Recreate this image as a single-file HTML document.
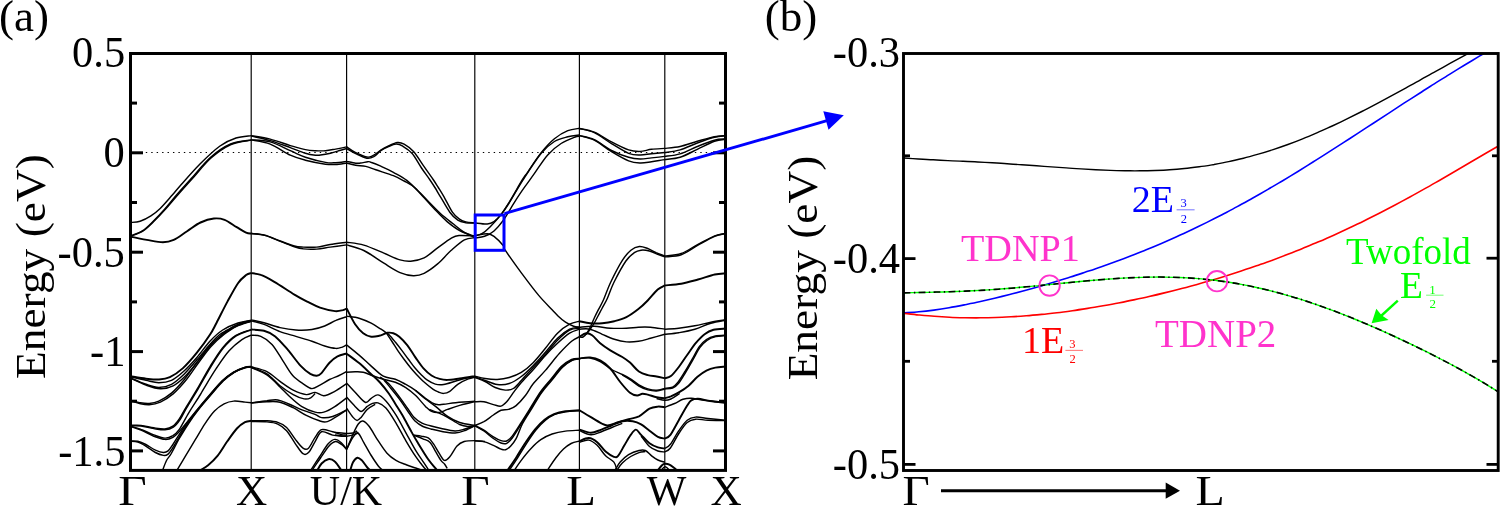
<!DOCTYPE html>
<html>
<head>
<meta charset="utf-8">
<title>Band structure</title>
<style>
html,body{margin:0;padding:0;background:#fff;}
body{width:1500px;height:507px;overflow:hidden;font-family:"Liberation Serif",serif;}
svg{display:block;will-change:transform;}
text{font-family:"Liberation Serif",serif;}
</style>
</head>
<body>
<svg width="1500" height="507" viewBox="0 0 1500 507">
<rect width="1500" height="507" fill="#fff"/>
<defs>
  <clipPath id="clipA"><rect x="130.5" y="53.5" width="595" height="416.8"/></clipPath>
  <clipPath id="clipB"><rect x="903.5" y="53.5" width="594.5" height="416.7"/></clipPath>
</defs>

<!-- ================= PANEL A ================= -->
<g id="panelA">
  <!-- vertical k-point lines -->
  <g stroke="#000" stroke-width="1.17" fill="none">
    <line x1="251.2" y1="53" x2="251.2" y2="470"/>
    <line x1="346.6" y1="53" x2="346.6" y2="470"/>
    <line x1="474.8" y1="53" x2="474.8" y2="470"/>
    <line x1="579.4" y1="53" x2="579.4" y2="470"/>
    <line x1="664.8" y1="53" x2="664.8" y2="470"/>
  </g>
  <!-- fermi level dotted -->
  <line x1="145.8" y1="152.5" x2="713" y2="152.5" stroke="#000" stroke-width="1.15" stroke-dasharray="1.4 4.036"/>
  <!-- BANDS A -->
  <g id="bandsA" stroke="#000" fill="none" stroke-linejoin="round" clip-path="url(#clipA)">
<g stroke-width="1.45">
<path d="M130.5 222.5C132.1 222.3 136.7 222.3 140.1 221.2C143.5 220.1 147.6 217.9 150.9 215.8C154.2 213.7 156.6 211.9 160.2 208.4C163.8 204.9 169.0 198.7 172.3 195.0C175.6 191.3 175.4 191.2 180.0 186.0C184.6 180.8 193.3 170.7 200.0 164.0C206.7 157.3 214.0 150.3 220.0 146.0C226.0 141.7 230.8 139.7 236.0 138.0C241.2 136.3 248.7 136.0 251.2 135.6"/>
<path d="M130.5 235.9C132.5 235.1 138.6 233.3 142.3 230.9C146.1 228.5 149.3 225.1 153.0 221.5C156.7 217.9 160.7 213.7 164.6 209.3C168.5 204.9 172.1 200.1 176.5 195.0C180.9 189.9 185.5 184.9 191.2 178.6C196.9 172.3 204.0 163.1 210.6 157.3C217.2 151.5 223.8 146.9 230.6 144.0C237.4 141.1 247.8 140.6 251.2 139.9"/>
<path d="M130.5 236.3C132.6 235.5 139.0 233.6 142.8 231.2C146.6 228.8 149.7 225.5 153.5 221.8C157.3 218.1 161.6 213.6 165.6 209.1C169.6 204.6 173.3 200.0 177.7 195.0C182.1 190.0 186.4 185.2 192.0 179.0C197.6 172.8 204.5 163.8 211.0 158.0C217.5 152.2 224.3 147.5 231.0 144.5C237.7 141.5 247.8 140.8 251.2 140.1"/>
<path d="M130.5 376.7C133.1 377.3 141.3 379.3 146.0 380.3C150.7 381.3 154.6 382.7 158.8 382.7C163.1 382.7 167.2 382.3 171.5 380.3C175.8 378.3 180.0 374.6 184.3 370.7C188.6 366.8 192.8 362.1 197.1 357.2C201.4 352.3 205.6 345.7 209.9 341.2C214.2 336.7 218.0 333.0 222.7 330.0C227.4 327.0 233.2 324.6 238.0 323.0C242.8 321.4 249.0 320.6 251.2 320.1"/>
<path d="M130.5 377.9C133.1 379.0 141.3 382.7 146.0 384.3C150.7 385.9 154.6 387.5 158.8 387.5C163.1 387.5 167.2 386.6 171.5 384.3C175.8 382.0 180.0 378.0 184.3 373.9C188.6 369.8 192.8 364.5 197.1 359.6C201.4 354.7 206.2 348.5 209.9 344.4C213.6 340.3 216.6 337.2 219.5 334.8C222.4 332.4 224.1 331.9 227.5 330.0C230.9 328.1 236.1 325.1 240.0 323.5C243.9 321.9 249.3 321.1 251.2 320.6"/>
<path d="M130.5 378.3C133.1 379.4 141.0 383.4 146.0 385.1C151.0 386.9 155.9 388.7 160.4 388.8C164.9 388.9 168.8 388.1 173.1 385.9C177.3 383.7 181.6 379.8 185.9 375.5C190.2 371.2 194.7 365.3 198.7 360.4C202.7 355.5 206.2 350.1 209.9 346.0C213.6 341.9 217.9 338.3 221.1 335.6C224.3 332.9 225.8 331.9 229.1 330.0C232.4 328.1 237.3 325.5 241.0 324.0C244.7 322.5 249.5 321.5 251.2 321.0"/>
<path d="M130.5 400.3C132.0 400.7 136.5 402.2 139.6 402.7C142.7 403.2 146.0 403.8 149.2 403.5C152.4 403.2 155.1 402.8 158.8 401.1C162.5 399.4 167.2 396.7 171.5 393.1C175.8 389.5 180.0 384.7 184.3 379.5C188.6 374.3 192.8 367.6 197.1 362.0C201.4 356.4 205.6 350.7 209.9 346.0C214.2 341.3 218.5 337.3 222.7 334.0C226.9 330.7 230.2 328.2 235.0 326.0C239.8 323.8 248.5 321.8 251.2 321.0"/>
<path d="M130.5 400.6C132.0 401.1 136.5 402.8 139.6 403.5C142.7 404.2 145.7 405.0 149.2 404.8C152.7 404.6 156.4 404.0 160.4 402.2C164.4 400.4 168.8 397.5 173.1 393.9C177.3 390.2 181.6 385.5 185.9 380.3C190.2 375.1 194.5 368.1 198.7 362.5C202.9 356.9 206.8 351.2 211.0 346.5C215.2 341.8 219.8 337.8 224.0 334.5C228.2 331.2 231.5 328.7 236.0 326.5C240.5 324.3 248.7 322.1 251.2 321.2"/>
<path d="M130.5 425.4C132.2 425.4 137.1 425.0 141.0 425.4C144.9 425.8 149.8 427.2 153.8 427.8C157.8 428.4 161.8 429.2 165.0 428.9C168.2 428.6 170.5 427.8 172.9 426.2C175.3 424.6 177.2 422.1 179.3 419.0C181.4 415.9 182.7 412.8 185.7 407.8C188.7 402.8 193.1 395.9 197.1 389.1C201.1 382.3 205.6 373.7 209.9 366.8C214.2 359.9 218.4 352.8 222.7 347.6C227.0 342.4 230.8 338.6 235.5 335.6C240.2 332.6 248.6 330.6 251.2 329.6"/>
<path d="M130.5 425.8C132.2 425.8 137.1 425.5 141.0 426.0C144.9 426.5 149.8 428.0 153.8 428.6C157.8 429.2 161.8 430.0 165.0 429.8C168.2 429.6 170.8 428.9 173.3 427.2C175.8 425.5 177.9 422.8 180.1 419.6C182.3 416.4 183.6 412.9 186.6 407.8C189.6 402.7 194.0 395.9 198.0 389.1C202.0 382.3 206.6 373.7 210.8 366.8C215.1 359.9 219.3 353.0 223.5 347.9C227.7 342.8 231.6 338.9 236.2 335.9C240.8 332.9 248.7 330.8 251.2 329.8"/>
<path d="M130.5 426.2C132.2 426.7 137.1 427.9 141.0 429.4C144.9 430.8 149.8 433.4 153.8 434.9C157.8 436.3 161.8 438.0 165.0 438.1C168.2 438.2 170.5 437.1 172.9 435.7C175.3 434.2 176.6 433.2 179.3 429.4C182.0 425.5 185.4 418.3 188.9 412.6C192.4 406.9 197.7 398.9 200.1 395.0C202.5 391.1 200.8 393.5 203.5 389.1C206.2 384.7 212.0 374.8 216.3 368.4C220.6 362.0 224.8 355.6 229.1 350.8C233.4 346.0 238.2 342.2 241.9 339.6C245.6 337.0 249.6 335.9 251.2 335.2"/>
<path d="M130.5 426.5C132.2 427.1 137.1 428.6 141.0 430.2C144.9 431.8 149.8 434.7 153.8 436.2C157.8 437.7 161.8 439.2 165.0 439.4C168.2 439.6 170.5 438.6 172.9 437.3C175.3 436.0 177.1 433.8 179.3 431.5C181.5 429.2 183.2 427.0 186.0 423.5C188.8 420.0 192.5 415.4 196.3 410.7C200.2 406.0 204.8 400.4 209.1 395.5C213.4 390.6 217.9 385.0 221.9 381.1C225.9 377.2 229.3 374.6 233.1 372.3C236.9 370.0 241.5 368.4 244.5 367.4C247.5 366.4 250.1 366.6 251.2 366.5"/>
<path d="M130.5 441.0C131.7 441.1 135.2 440.7 137.8 441.3C140.4 441.9 142.9 443.0 145.8 444.5C148.7 446.0 152.5 448.8 155.4 450.1C158.3 451.4 161.3 452.4 163.4 452.5C165.5 452.6 166.5 452.2 168.1 450.9C169.7 449.6 171.0 447.2 172.9 444.5C174.8 441.8 176.6 438.4 179.3 434.4C182.0 430.4 186.0 424.4 188.9 420.5C191.8 416.6 193.3 414.9 196.7 410.7C200.1 406.5 205.2 400.4 209.5 395.5C213.8 390.6 218.3 385.0 222.3 381.1C226.3 377.2 229.8 374.6 233.5 372.3C237.2 370.0 241.8 368.4 244.7 367.5C247.6 366.6 250.1 366.8 251.2 366.7"/>
<path d="M130.5 441.3C131.7 441.4 135.2 441.3 137.8 442.1C140.4 442.9 142.9 444.4 145.8 446.1C148.7 447.8 152.5 450.9 155.4 452.5C158.3 454.1 161.3 455.1 163.4 455.4C165.5 455.7 166.5 455.4 168.1 454.1C169.7 452.8 171.0 450.6 172.9 447.7C174.8 444.8 176.6 441.1 179.3 436.8C182.0 432.5 185.9 426.2 188.9 421.8C191.9 417.4 193.6 415.1 197.1 410.7C200.6 406.3 205.6 400.4 209.9 395.5C214.2 390.6 218.7 385.0 222.7 381.1C226.7 377.2 230.2 374.6 233.9 372.3C237.6 370.1 242.1 368.5 245.0 367.6C247.9 366.7 250.2 366.9 251.2 366.8"/>
<path d="M162.6 470.3C163.2 468.7 165.1 463.3 166.5 460.5C167.9 457.7 169.2 457.2 171.3 453.5C173.4 449.8 176.4 443.6 179.3 438.5C182.2 433.4 185.9 427.6 188.9 423.0C191.9 418.4 194.0 415.3 197.6 410.7C201.2 406.1 206.1 400.4 210.4 395.5C214.7 390.6 219.2 385.0 223.2 381.1C227.2 377.2 230.7 374.5 234.4 372.3C238.1 370.1 242.5 368.7 245.3 367.8C248.1 366.9 250.2 367.0 251.2 366.9"/>
<path d="M176.9 470.3C178.4 467.9 182.6 460.8 185.7 455.7C188.8 450.6 192.1 445.0 195.3 439.7C198.5 434.4 201.7 428.6 204.9 423.8C208.1 419.0 211.3 414.3 214.5 411.0C217.7 407.7 220.9 405.4 224.1 403.8C227.3 402.2 230.2 401.4 233.7 401.1C237.2 400.8 242.1 401.8 245.0 402.1C247.9 402.4 250.2 402.6 251.2 402.7"/>
<path d="M251.2 135.6C254.4 136.2 263.7 137.4 270.2 139.1C276.7 140.8 284.4 143.8 290.3 145.6C296.2 147.3 301.2 148.8 305.4 149.6C309.6 150.4 312.1 150.5 315.5 150.7C318.9 150.9 322.1 151.0 325.5 150.7C328.9 150.4 332.1 149.7 335.6 149.1C339.1 148.5 344.9 147.3 346.7 146.9"/>
<path d="M251.2 136.0C254.4 136.8 263.7 138.7 270.2 140.6C276.7 142.5 284.4 145.5 290.3 147.6C296.2 149.7 301.2 151.9 305.4 153.2C309.6 154.5 313.0 154.9 315.5 155.2C318.0 155.5 318.0 155.3 320.5 155.0C323.0 154.7 327.1 154.0 330.5 153.2C333.9 152.4 337.9 151.0 340.6 150.2C343.3 149.4 345.7 148.8 346.7 148.5"/>
<path d="M251.2 139.9C254.4 140.2 263.7 140.1 270.2 141.9C276.7 143.7 284.4 148.1 290.3 150.7C296.2 153.2 299.5 155.2 305.4 157.2C311.3 159.1 320.5 161.5 325.5 162.4C330.5 163.3 332.1 162.9 335.6 162.7C339.1 162.5 344.9 161.6 346.7 161.4"/>
<path d="M251.2 139.9C254.4 140.6 263.7 141.6 270.2 144.1C276.7 146.6 284.4 152.5 290.3 155.2C296.2 157.9 299.5 158.7 305.4 160.2C311.3 161.7 320.5 163.5 325.5 164.2C330.5 164.9 332.1 164.7 335.6 164.5C339.1 164.3 344.9 163.2 346.7 163.0"/>
<path d="M251.2 233.5C253.5 233.8 259.9 233.9 264.9 235.2C269.9 236.5 276.1 239.5 281.0 241.3C285.9 243.1 290.7 245.0 294.4 246.0C298.1 247.0 299.7 246.9 303.4 247.1C307.1 247.3 312.3 247.5 316.8 247.1C321.3 246.7 325.2 245.3 330.2 244.5C335.2 243.7 343.9 242.6 346.7 242.2"/>
<path d="M251.2 233.5C253.5 233.8 259.9 234.1 264.9 235.4C269.9 236.8 276.1 239.7 281.0 241.6C285.9 243.5 290.7 245.6 294.4 246.8C298.1 248.0 299.7 248.5 303.4 248.9C307.1 249.3 312.3 249.4 316.8 249.1C321.3 248.8 325.2 247.8 330.2 247.1C335.2 246.4 343.9 245.3 346.7 244.9"/>
<path d="M251.2 319.9C253.3 320.4 259.2 321.5 264.0 322.8C268.8 324.1 274.7 326.4 280.0 327.6C285.3 328.8 290.6 329.7 295.9 330.0C301.2 330.3 307.1 330.2 311.9 329.5C316.7 328.8 320.7 327.5 324.7 326.0C328.7 324.5 332.2 321.9 335.9 320.4C339.6 318.8 344.9 317.3 346.7 316.7"/>
<path d="M251.2 320.9C253.3 321.5 259.2 322.6 264.0 324.4C268.8 326.2 274.7 329.6 280.0 331.6C285.3 333.6 290.6 334.8 295.9 336.4C301.2 338.0 307.1 339.6 311.9 341.2C316.7 342.8 320.7 344.8 324.7 346.0C328.7 347.2 333.0 348.2 335.9 348.4C338.8 348.6 340.5 347.7 342.3 347.1C344.1 346.5 346.0 345.2 346.7 344.8"/>
<path d="M251.2 335.2C252.8 335.4 257.3 334.9 260.8 336.4C264.3 337.9 268.3 340.3 272.0 344.4C275.7 348.5 279.7 355.9 283.1 361.1C286.6 366.3 289.2 371.6 292.7 375.5C296.2 379.4 300.7 382.1 303.9 384.3C307.1 386.5 309.2 388.5 311.9 388.6C314.6 388.7 317.0 386.6 319.9 385.1C322.8 383.6 326.3 381.1 329.5 379.5C332.7 377.9 336.2 376.8 339.1 375.5C342.0 374.2 345.4 372.2 346.7 371.5"/>
<path d="M251.2 366.8C253.8 367.6 262.1 369.2 266.9 371.6C271.7 374.0 275.6 378.3 280.0 381.4C284.4 384.5 288.8 388.0 293.2 390.2C297.6 392.4 302.6 394.2 306.3 394.6C310.0 395.0 312.2 392.2 315.1 392.4C318.0 392.6 320.5 395.9 323.8 395.7C327.1 395.5 331.0 393.3 334.8 391.3C338.6 389.3 344.7 384.9 346.7 383.6"/>
<path d="M251.2 367.2C253.8 368.3 262.1 370.7 266.9 373.8C271.7 376.9 275.6 382.3 280.0 385.8C284.4 389.3 289.2 392.4 293.2 394.6C297.2 396.8 301.2 398.4 304.1 398.9C307.0 399.4 308.9 398.7 310.7 397.8C312.5 396.9 314.4 394.2 315.1 393.5"/>
<path d="M251.2 367.6C253.8 368.8 262.1 371.7 266.9 374.9C271.7 378.1 276.4 383.4 280.0 386.9C283.6 390.4 285.2 392.4 288.8 395.7C292.4 399.0 297.5 403.9 301.9 406.6C306.3 409.3 311.5 411.2 315.1 412.1C318.8 413.0 320.5 413.0 323.8 412.1C327.1 411.2 331.0 409.0 334.8 406.6C338.6 404.2 344.7 399.3 346.7 397.8"/>
<path d="M251.2 402.7C253.8 402.4 262.5 401.1 266.9 400.7C271.3 400.2 274.1 399.4 277.8 400.0C281.5 400.6 284.8 402.4 288.8 404.0C292.8 405.6 297.5 408.2 301.9 409.9C306.3 411.6 311.8 413.0 315.1 414.3C318.4 415.6 318.7 417.2 321.6 417.6C324.5 418.0 328.4 417.8 332.6 416.5C336.8 415.2 344.4 411.0 346.7 409.9"/>
<path d="M251.2 403.1C253.8 402.9 262.1 402.0 266.9 401.8C271.7 401.6 275.6 401.2 280.0 402.2C284.4 403.2 288.8 405.5 293.2 407.7C297.6 409.9 301.9 413.2 306.3 415.4C310.7 417.6 316.1 419.7 319.4 420.8C322.7 421.9 323.4 422.4 326.0 421.9C328.6 421.4 331.4 419.6 334.8 417.6C338.2 415.6 344.7 411.2 346.7 409.9"/>
<path d="M251.2 420.8C253.8 420.8 262.5 420.5 266.9 420.8C271.3 421.1 274.5 421.3 277.8 422.4C281.1 423.5 283.7 424.6 286.6 427.4C289.5 430.2 292.7 435.9 295.4 439.4C298.1 442.9 300.8 446.7 303.0 448.2C305.2 449.7 306.5 450.0 308.5 448.2C310.5 446.4 312.9 440.4 315.1 437.3C317.3 434.2 318.7 430.5 321.6 429.6C324.5 428.7 329.3 431.0 332.6 431.8C335.9 432.6 339.0 434.1 341.3 434.6C343.6 435.2 345.8 435.0 346.7 435.1"/>
<path d="M251.2 421.5C253.8 421.6 262.5 421.5 266.9 421.9C271.3 422.3 274.5 422.6 277.8 424.1C281.1 425.6 283.7 427.4 286.6 430.7C289.5 434.0 292.7 440.0 295.4 443.8C298.1 447.6 300.8 452.2 303.0 453.7C305.2 455.2 306.5 454.6 308.5 452.6C310.5 450.6 312.9 445.1 315.1 441.6C317.3 438.1 318.7 432.9 321.6 431.8C324.5 430.7 329.3 434.4 332.6 435.1C335.9 435.8 339.0 436.0 341.3 436.2C343.6 436.4 345.8 436.2 346.7 436.2"/>
<path d="M310.7 470.3C312.1 468.1 316.5 461.4 319.4 457.0C322.3 452.6 325.6 446.7 328.2 443.8C330.8 440.9 332.6 439.6 334.8 439.4C337.0 439.2 339.3 441.0 341.3 442.7C343.3 444.4 345.8 448.2 346.7 449.3"/>
<path d="M312.0 470.3C313.4 468.2 317.7 462.1 320.5 458.0C323.3 453.9 326.5 448.8 329.0 446.0C331.5 443.2 333.4 441.8 335.5 441.5C337.6 441.2 339.6 443.2 341.5 444.5C343.4 445.8 345.8 448.5 346.7 449.3"/>
<path d="M346.7 146.9C348.2 147.9 352.3 151.0 355.7 152.7C359.1 154.4 363.9 156.5 366.8 157.0C369.7 157.5 370.5 156.8 372.8 155.7C375.1 154.6 378.3 151.8 380.8 150.2C383.3 148.6 385.2 147.5 388.0 146.2C390.8 144.9 394.7 142.8 397.4 142.5C400.1 142.2 401.4 142.6 404.1 144.1C406.8 145.6 410.1 147.7 413.5 151.5C416.9 155.3 421.0 162.2 424.3 166.9C427.6 171.7 431.2 176.6 433.5 180.0C435.8 183.4 436.6 184.8 438.3 187.5C440.0 190.2 441.2 192.0 443.6 196.1C446.0 200.2 449.8 208.4 452.4 212.2C455.0 216.0 456.9 217.3 459.1 218.9C461.3 220.5 463.2 221.2 465.8 221.9C468.4 222.6 473.4 222.7 474.9 222.9"/>
<path d="M346.7 148.6C348.2 149.4 352.3 152.1 355.7 153.7C359.1 155.3 363.8 157.7 366.8 158.2C369.8 158.7 371.5 157.9 373.8 156.7C376.1 155.4 378.4 152.3 380.8 150.7C383.2 149.0 385.4 147.9 388.0 146.8C390.6 145.7 393.6 144.2 396.1 144.1C398.6 144.0 400.1 144.6 402.8 146.2C405.5 147.8 409.1 149.9 412.2 153.5C415.3 157.1 418.5 163.6 421.5 168.0C424.5 172.4 427.8 176.8 430.0 180.0C432.2 183.2 433.1 184.6 434.9 187.5C436.7 190.4 438.3 193.3 440.8 197.4C443.3 201.5 447.0 208.4 449.8 212.2C452.6 216.0 455.1 218.4 457.8 220.2C460.5 221.9 463.0 222.2 465.8 222.7C468.6 223.1 473.4 222.9 474.9 222.9"/>
<path d="M346.7 161.4C348.2 161.7 353.4 162.9 355.7 163.2C358.0 163.5 358.7 163.2 360.7 163.0C362.7 162.8 366.1 161.8 367.8 161.7C369.5 161.6 368.6 161.4 370.8 162.2C373.0 162.9 377.0 164.5 380.8 166.2C384.6 167.9 389.1 169.9 393.4 172.3C397.7 174.7 402.3 176.9 406.8 180.4C411.3 183.9 415.7 188.8 420.2 193.4C424.7 198.0 429.2 203.5 433.7 208.2C438.2 212.9 442.6 217.8 447.1 221.6C451.6 225.4 455.9 228.6 460.5 231.0C465.1 233.4 472.5 235.4 474.9 236.3"/>
<path d="M346.7 163.0C348.2 163.4 352.5 164.6 355.7 165.2C358.9 165.8 362.4 165.6 365.8 166.4C369.2 167.2 371.2 168.2 375.8 169.8C380.4 171.4 388.7 173.8 393.4 175.7C398.1 177.6 400.5 179.0 404.1 181.0C407.7 183.0 411.1 184.5 414.9 187.7C418.7 190.9 422.8 195.7 427.0 200.0C431.2 204.3 435.9 209.4 440.4 213.5C444.9 217.6 450.0 221.3 453.8 224.3C457.6 227.3 459.7 229.4 463.2 231.6C466.7 233.8 472.9 236.7 474.9 237.7"/>
<path d="M346.7 242.2C349.6 242.7 357.6 243.3 363.8 245.1C370.0 246.9 377.9 250.7 383.9 253.2C389.9 255.7 395.5 258.6 400.0 259.9C404.5 261.2 406.7 261.5 410.7 261.2C414.7 260.9 419.6 260.1 424.1 257.9C428.6 255.7 433.1 251.1 437.6 247.8C442.1 244.6 447.4 240.5 451.0 238.4C454.6 236.3 455.0 235.9 459.0 235.5C463.0 235.1 472.2 235.9 474.9 236.0"/>
<path d="M346.7 244.9C349.6 245.8 357.6 247.4 363.8 250.5C370.0 253.6 377.9 259.5 383.9 263.2C389.9 266.9 395.1 270.5 400.0 272.6C404.9 274.7 409.4 275.6 413.4 275.7C417.4 275.8 420.1 275.3 424.1 273.3C428.1 271.3 433.1 267.7 437.6 263.9C442.1 260.1 446.5 254.5 451.0 250.5C455.5 246.5 460.4 241.9 464.4 239.8C468.4 237.7 473.1 238.0 474.9 237.7"/>
<path d="M346.7 316.1C348.8 316.5 355.0 317.0 359.1 318.2C363.2 319.4 367.6 321.4 371.2 323.2C374.8 325.0 378.4 327.6 381.0 329.2C383.6 330.8 385.2 332.0 386.6 333.0C388.1 334.0 388.2 333.8 389.7 335.4C391.2 336.9 393.4 339.7 395.5 342.3C397.6 344.9 400.1 348.1 402.2 350.9C404.3 353.7 406.3 356.5 408.4 359.3C410.5 362.1 412.5 365.0 414.6 367.5C416.7 370.0 418.9 372.4 421.0 374.5C423.1 376.6 424.6 378.3 427.0 379.9C429.4 381.5 432.5 383.3 435.3 384.1C438.1 384.9 440.2 385.0 443.6 384.5C447.1 384.0 452.4 382.0 456.0 381.0C459.6 380.0 461.9 379.2 465.0 378.5C468.1 377.8 473.2 376.9 474.9 376.6"/>
<path d="M386.6 333.3C387.5 334.7 390.1 338.6 392.0 341.5C393.9 344.4 396.0 347.9 398.0 350.9C400.0 353.9 402.1 356.7 404.2 359.5C406.3 362.3 408.3 365.0 410.4 367.5C412.4 370.0 414.4 372.2 416.5 374.5C418.6 376.8 420.1 378.5 422.9 381.0C425.7 383.5 430.6 387.5 433.2 389.3C435.8 391.1 436.8 391.3 438.5 392.0C440.2 392.7 441.7 393.5 443.6 393.4C445.5 393.3 447.4 392.9 449.8 391.3C452.2 389.8 455.0 386.2 458.1 384.1C461.2 382.0 465.6 380.0 468.4 378.9C471.2 377.8 473.8 377.5 474.9 377.2"/>
<path d="M346.7 345.0C348.8 346.7 355.0 351.6 359.1 355.1C363.2 358.6 367.2 362.6 371.2 366.1C375.2 369.6 379.3 374.0 383.3 376.2C387.3 378.4 391.6 377.9 395.3 379.2C399.0 380.5 402.0 382.3 405.4 384.2C408.8 386.1 412.0 387.9 415.4 390.3C418.8 392.7 422.1 396.0 425.5 398.3C428.9 400.6 432.5 403.3 435.5 404.3C438.5 405.3 440.2 404.6 443.6 404.3C447.0 404.0 450.5 403.2 455.7 402.7C460.9 402.2 471.7 401.5 474.9 401.3"/>
<path d="M346.7 372.2C348.1 372.1 352.4 371.8 355.1 371.8C357.9 371.8 360.5 371.6 363.2 372.2C365.9 372.8 367.8 374.0 371.2 375.2C374.6 376.4 379.3 378.0 383.3 379.2C387.3 380.4 391.6 380.8 395.3 382.2C399.0 383.6 402.0 385.1 405.4 387.3C408.8 389.5 412.0 392.1 415.4 395.3C418.8 398.5 422.8 403.7 425.5 406.4C428.2 409.1 429.1 410.4 431.5 411.4C433.9 412.4 436.9 412.7 439.6 412.4C442.3 412.1 444.2 410.6 447.6 409.4C451.0 408.2 455.1 406.7 459.7 405.4C464.2 404.1 472.4 402.1 474.9 401.5"/>
<path d="M415.4 390.3C417.1 391.8 422.1 396.3 425.5 399.0C428.9 401.7 431.8 403.5 435.5 406.4C439.2 409.3 443.6 413.7 447.6 416.4C451.6 419.1 455.1 421.0 459.7 422.5C464.2 424.0 472.4 425.0 474.9 425.5"/>
<path d="M429.5 409.4C431.2 410.1 436.6 412.1 439.6 413.4C442.6 414.7 444.2 415.5 447.6 417.4C451.0 419.2 456.4 423.0 459.7 424.5C463.0 426.0 465.2 426.3 467.7 426.5C470.2 426.7 473.7 425.7 474.9 425.5"/>
<path d="M380.0 377.0C381.5 378.1 385.5 380.4 388.8 383.8C392.1 387.2 396.7 393.4 399.9 397.6C403.1 401.8 405.7 405.8 408.0 409.0C410.3 412.2 411.4 414.6 413.7 417.0C416.0 419.4 419.2 421.7 422.0 423.2C424.8 424.7 427.0 424.9 430.2 425.8C433.4 426.7 437.2 427.6 441.3 428.5C445.4 429.4 451.1 430.9 455.0 431.0C458.9 431.1 461.7 429.9 465.0 429.0C468.3 428.1 473.2 426.1 474.9 425.5"/>
<path d="M384.0 380.0C385.2 381.4 388.2 385.1 391.0 388.5C393.8 391.9 397.5 396.4 400.5 400.5C403.5 404.6 406.6 409.6 409.0 413.0C411.4 416.4 412.7 418.8 415.0 421.0C417.3 423.2 420.3 425.2 423.0 426.5C425.7 427.8 427.8 428.2 431.0 429.0C434.2 429.8 438.0 430.8 442.0 431.5C446.0 432.2 451.2 433.2 455.0 433.0C458.8 432.8 461.7 431.7 465.0 430.5C468.3 429.3 473.2 426.5 474.9 425.7"/>
<path d="M346.7 383.2C348.1 384.7 352.0 389.1 355.1 392.3C358.2 395.5 362.5 401.3 365.2 402.3C367.9 403.3 369.1 399.5 371.2 398.3C373.3 397.1 375.6 394.5 378.0 394.9C380.4 395.3 382.9 397.6 385.9 400.9C388.9 404.2 392.6 409.6 395.9 414.9C399.2 420.2 402.6 426.8 405.9 432.8C409.2 438.8 412.8 445.7 415.8 450.7C418.8 455.7 421.6 459.4 423.8 462.7C426.0 466.0 428.0 469.0 428.8 470.3"/>
<path d="M346.7 397.3C348.1 398.8 352.7 404.0 355.1 406.4C357.5 408.8 359.1 411.4 361.1 411.4C363.1 411.4 365.4 407.7 367.2 406.4C369.0 405.1 370.2 404.2 372.0 403.6C373.8 403.0 375.7 402.2 378.0 402.9C380.3 403.6 382.9 404.6 385.9 407.9C388.9 411.2 392.6 417.3 395.9 422.8C399.2 428.3 402.6 435.2 405.9 440.8C409.2 446.4 413.1 452.7 415.8 456.7C418.5 460.7 420.0 462.4 421.8 464.7C423.6 467.0 425.7 469.4 426.5 470.3"/>
<path d="M346.7 408.4C347.8 409.9 351.4 415.4 353.1 417.4C354.8 419.4 355.8 420.4 357.1 420.4C358.4 420.4 359.4 419.2 361.1 417.4C362.8 415.6 364.9 411.6 367.2 409.4C369.5 407.2 373.9 405.1 375.2 404.3"/>
<path d="M346.7 449.3C347.8 446.8 351.2 438.2 353.1 434.0C355.0 429.8 356.7 426.2 358.3 424.0C359.9 421.8 361.0 420.6 362.8 421.0C364.6 421.4 366.6 423.0 369.1 426.3C371.7 429.6 375.1 436.2 378.1 440.7C381.1 445.2 384.0 449.9 387.0 453.2C390.0 456.5 392.7 458.4 396.0 460.4C399.3 462.4 403.5 463.7 406.8 465.0C410.1 466.3 413.0 467.1 415.7 468.0C418.4 468.9 421.8 469.9 423.0 470.3"/>
<path d="M346.7 449.3C347.8 447.2 351.2 439.6 353.1 437.0C355.0 434.4 356.5 432.6 358.3 433.5C360.1 434.4 361.6 438.8 363.7 442.4C365.8 446.0 368.5 451.1 370.9 455.0C373.3 458.9 376.2 463.1 378.1 465.7C380.0 468.2 381.8 469.5 382.5 470.3"/>
<path d="M335.0 432.5C336.9 432.6 343.7 433.3 346.7 433.4C349.7 433.5 351.3 433.4 353.0 433.0C354.7 432.6 356.3 431.3 357.0 431.0"/>
<path d="M335.0 435.0C336.9 435.2 343.4 436.3 346.7 436.2C350.0 436.1 352.8 435.0 354.7 434.3C356.6 433.6 357.7 432.4 358.3 432.0"/>
<path d="M414.0 435.2C415.2 435.4 418.7 435.7 421.1 436.1C423.5 436.6 426.2 436.5 428.3 437.9C430.4 439.2 431.9 441.6 433.7 444.2C435.5 446.8 437.3 450.5 439.1 453.2C440.9 455.9 442.7 459.8 444.5 460.4C446.3 461.0 447.7 459.2 449.8 456.8C451.9 454.4 454.6 448.6 457.0 446.0C459.4 443.4 461.2 442.4 464.2 441.5C467.2 440.6 471.4 440.6 474.9 440.6C478.4 440.6 483.3 441.4 485.0 441.5"/>
<path d="M414.0 435.2C415.5 435.8 420.2 437.6 422.9 438.8C425.6 440.0 428.0 440.3 430.1 442.4C432.2 444.5 433.7 448.4 435.5 451.4C437.3 454.4 439.4 458.3 440.9 460.4C442.4 462.5 443.4 462.7 444.5 464.0C445.6 465.3 446.8 467.7 447.2 468.4"/>
<path d="M474.9 222.9C477.0 223.1 484.1 224.2 487.3 224.0C490.5 223.8 491.8 223.1 494.0 221.6C496.2 220.1 498.2 218.0 500.7 214.9C503.2 211.8 505.2 208.6 508.8 202.8C512.4 197.0 519.1 185.1 522.2 180.0C525.3 174.9 524.5 176.8 527.6 172.3C530.7 167.8 536.5 158.5 541.0 152.9C545.5 147.3 549.9 142.5 554.4 138.8C558.9 135.1 563.6 132.4 567.8 130.7C572.0 128.9 577.5 128.7 579.5 128.3"/>
<path d="M474.9 235.7C476.1 235.4 479.4 235.2 481.9 233.7C484.4 232.2 486.9 230.0 490.0 226.9C493.1 223.8 497.6 219.0 500.7 215.1C503.8 211.2 505.1 209.3 508.8 203.5C512.5 197.7 517.5 188.3 522.9 180.0C528.3 171.7 535.8 159.9 541.0 153.5C546.2 147.1 549.9 144.3 554.4 141.5C558.9 138.7 563.6 137.9 567.8 136.8C572.0 135.7 577.5 135.3 579.5 135.0"/>
<path d="M474.9 237.9C476.5 237.6 481.4 237.5 484.6 236.3C487.8 235.2 490.9 233.7 494.0 231.0C497.1 228.3 500.0 224.9 503.4 220.2C506.8 215.5 510.6 208.2 514.1 202.8C517.6 197.4 520.8 192.5 524.2 187.7C527.6 182.8 530.4 179.2 534.3 173.7C538.2 168.2 543.2 159.9 547.7 154.9C552.2 149.9 556.6 146.4 561.1 143.5C565.6 140.6 571.4 138.4 574.5 137.2C577.6 136.0 578.7 136.3 579.5 136.1"/>
<path d="M474.9 235.7C477.0 235.4 484.1 233.6 487.3 233.7C490.5 233.8 491.3 234.3 494.0 236.3C496.7 238.3 501.5 243.4 503.4 245.7C505.3 248.0 502.1 245.5 505.2 250.2C508.3 254.8 516.3 266.1 521.9 273.6C527.5 281.1 533.7 289.4 538.7 295.4C543.7 301.4 548.9 306.3 552.1 309.7C555.3 313.1 555.8 313.9 558.0 316.0C560.2 318.1 562.9 320.5 565.5 322.2C568.1 323.9 571.3 325.4 573.6 326.2C575.9 327.0 578.5 327.0 579.5 327.2"/>
<path d="M474.9 376.1C476.6 376.5 481.4 377.9 485.1 378.5C488.8 379.1 493.2 379.7 497.2 379.5C501.2 379.3 505.2 378.7 509.2 377.5C513.2 376.3 517.3 374.9 521.3 372.4C525.3 369.9 529.4 366.4 533.4 362.4C537.4 358.4 541.4 353.2 545.4 348.3C549.4 343.4 553.5 337.2 557.5 333.2C561.5 329.2 565.9 326.2 569.6 324.2C573.3 322.2 577.9 321.7 579.5 321.2"/>
<path d="M474.9 376.9C476.6 377.5 481.4 379.2 485.1 380.5C488.8 381.8 493.2 384.0 497.2 384.5C501.2 385.0 505.2 384.8 509.2 383.5C513.2 382.2 517.3 379.5 521.3 376.5C525.3 373.5 529.4 369.4 533.4 365.4C537.4 361.4 541.4 356.8 545.4 352.3C549.4 347.8 553.5 342.2 557.5 338.3C561.5 334.4 565.9 331.1 569.6 329.2C573.3 327.3 577.9 327.5 579.5 327.2"/>
<path d="M474.9 377.5C476.6 378.2 481.7 379.8 485.1 381.5C488.5 383.2 491.9 386.1 495.2 387.5C498.5 388.9 502.2 389.9 505.2 390.1C508.2 390.3 510.6 390.1 513.3 388.5C516.0 386.9 518.3 383.7 521.3 380.5C524.3 377.3 527.4 373.8 531.4 369.4C535.4 365.0 541.0 359.1 545.4 354.3C549.8 349.5 553.5 344.3 557.5 340.3C561.5 336.3 565.9 332.2 569.6 330.2C573.3 328.2 577.9 328.5 579.5 328.2"/>
<path d="M474.9 401.8C476.4 401.8 480.8 401.3 483.9 401.8C487.0 402.3 490.5 403.9 493.4 404.6C496.2 405.3 498.8 406.6 501.0 406.1C503.2 405.6 504.5 404.2 506.7 401.8C508.9 399.4 511.9 394.6 514.3 391.4C516.7 388.2 518.1 386.2 521.3 382.5C524.5 378.8 529.4 373.9 533.4 369.4C537.4 364.9 541.4 359.8 545.4 355.4C549.4 351.0 553.5 347.0 557.5 343.3C561.5 339.6 565.9 335.6 569.6 333.2C573.3 330.8 577.9 329.9 579.5 329.2"/>
<path d="M474.9 425.5C476.4 424.9 480.8 423.4 483.9 421.7C487.0 419.9 490.5 416.9 493.4 415.0C496.2 413.1 498.5 411.2 501.0 410.3C503.5 409.4 506.1 410.2 508.6 409.4C511.1 408.6 513.3 408.0 516.1 405.6C518.9 403.2 522.8 398.8 525.6 395.2C528.5 391.6 529.9 387.9 533.2 383.8C536.5 379.7 541.0 375.5 545.4 370.4C549.8 365.3 555.1 358.1 559.5 353.3C563.9 348.5 568.3 344.1 571.6 341.3C574.9 338.5 578.2 337.5 579.5 336.7"/>
<path d="M474.9 425.5C476.4 426.3 480.8 428.3 483.9 430.2C487.0 432.1 490.5 435.1 493.4 436.8C496.2 438.5 498.8 439.9 501.0 440.6C503.2 441.3 504.8 441.8 506.7 441.0C508.6 440.2 509.9 439.1 512.4 435.9C514.9 432.7 518.6 426.6 521.8 421.7C524.9 416.8 528.1 411.6 531.3 406.5C534.5 401.4 537.4 396.1 540.8 391.4C544.2 386.7 548.0 382.7 551.5 378.5C555.0 374.3 558.1 369.6 561.5 366.4C564.9 363.2 568.6 360.7 571.6 359.4C574.6 358.1 578.2 358.6 579.5 358.4"/>
<path d="M474.9 425.7C476.4 426.6 480.8 428.9 483.9 431.0C487.0 433.1 490.5 436.5 493.4 438.5C496.2 440.5 498.8 442.2 501.0 443.0C503.2 443.8 504.8 444.2 506.7 443.3C508.6 442.4 510.0 441.0 512.6 437.5C515.2 434.0 519.1 427.4 522.3 422.3C525.5 417.2 528.6 412.2 531.8 407.1C535.0 402.1 537.9 396.7 541.3 392.0C544.7 387.3 548.5 383.3 552.0 379.1C555.5 374.9 558.7 370.2 562.0 367.0C565.3 363.8 569.1 361.4 572.0 360.0C574.9 358.6 578.2 358.9 579.5 358.7"/>
<path d="M474.9 441.0C476.4 441.1 480.8 440.9 483.9 441.6C487.0 442.3 490.5 444.1 493.4 445.4C496.2 446.6 498.9 448.4 501.0 449.1C503.1 449.8 504.1 450.2 505.7 449.7C507.3 449.2 508.8 448.1 510.5 446.3C512.2 444.5 514.1 442.5 516.1 438.7C518.1 434.9 519.9 428.6 522.6 423.5C525.3 418.4 529.0 413.0 532.2 407.8C535.4 402.6 538.3 397.2 541.7 392.5C545.1 387.8 549.0 383.8 552.4 379.6C555.8 375.4 559.0 370.6 562.3 367.4C565.6 364.2 569.3 361.7 572.2 360.3C575.1 358.9 578.3 359.1 579.5 358.9"/>
<path d="M509.3 470.3C510.7 468.2 514.7 462.4 517.6 457.9C520.5 453.4 523.6 447.9 526.6 443.3C529.6 438.7 532.8 433.8 535.9 430.0C539.0 426.2 542.1 423.1 545.2 420.5C548.3 417.9 551.0 416.1 554.4 414.7C557.8 413.2 561.4 412.5 565.6 411.8C569.8 411.1 577.2 410.9 579.5 410.7"/>
<path d="M514.3 470.3C515.5 468.5 519.0 463.3 521.8 459.6C524.6 455.9 528.1 451.5 531.3 448.2C534.5 444.9 537.3 442.1 540.8 439.7C544.3 437.3 548.0 435.4 552.1 434.0C556.2 432.6 560.8 431.7 565.4 431.1C570.0 430.5 577.1 430.4 579.5 430.2"/>
<path d="M547.4 470.3C548.8 468.2 553.2 461.2 555.9 457.7C558.6 454.2 561.0 451.5 563.5 449.1C566.0 446.7 568.4 444.9 571.1 443.5C573.8 442.1 578.1 441.4 579.5 441.0"/>
<path d="M579.5 128.5C582.0 129.1 589.0 130.0 594.3 132.2C599.6 134.4 605.8 138.9 611.5 141.9C617.2 144.9 623.8 148.3 628.6 149.9C633.4 151.5 636.3 151.5 640.1 151.4C643.9 151.3 647.4 149.8 651.5 149.3C655.6 148.8 662.6 148.6 664.8 148.4"/>
<path d="M579.5 128.5C582.0 129.2 589.0 130.2 594.3 132.7C599.6 135.2 605.8 140.2 611.5 143.6C617.2 147.0 623.8 151.4 628.6 153.3C633.4 155.2 636.3 154.9 640.1 155.0C643.9 155.1 647.4 154.1 651.5 153.7C655.6 153.3 662.6 152.7 664.8 152.5"/>
<path d="M579.5 135.6C582.0 136.3 589.0 137.1 594.3 139.6C599.6 142.1 605.8 147.6 611.5 150.5C617.2 153.4 623.8 155.9 628.6 157.3C633.4 158.7 636.3 158.9 640.1 159.0C643.9 159.1 647.4 158.3 651.5 157.9C655.6 157.5 662.6 156.7 664.8 156.4"/>
<path d="M579.5 135.6C582.0 136.4 589.0 137.5 594.3 140.2C599.6 142.9 605.8 148.2 611.5 151.6C617.2 155.0 623.8 158.9 628.6 160.8C633.4 162.7 636.3 162.8 640.1 163.0C643.9 163.2 647.4 162.3 651.5 161.7C655.6 161.1 662.6 159.9 664.8 159.6"/>
<path d="M579.5 336.9C580.1 336.9 581.8 337.6 583.0 337.0C584.2 336.4 585.7 334.8 587.0 333.0C588.3 331.2 589.5 328.6 590.8 326.0C592.0 323.4 593.2 320.2 594.5 317.5C595.8 314.8 596.9 312.6 598.4 309.7C599.9 306.8 601.3 304.6 603.4 300.0C605.5 295.4 607.6 288.6 610.8 282.0C614.0 275.4 619.1 265.5 622.5 260.2C625.9 254.9 628.1 252.5 630.9 250.2C633.7 247.9 636.5 246.8 639.3 246.5C642.1 246.2 644.9 247.5 647.7 248.5C650.5 249.5 653.2 251.4 656.1 252.7C659.0 253.9 663.3 255.4 664.8 256.0"/>
<path d="M586.0 334.5C586.7 333.7 588.7 331.3 590.0 329.5C591.3 327.7 592.7 325.8 594.0 323.5C595.3 321.2 596.7 318.5 598.0 316.0C599.3 313.5 600.5 311.4 602.0 308.5C603.5 305.6 605.3 302.9 607.3 298.5C609.3 294.1 611.0 288.2 614.1 282.0C617.2 275.8 622.5 265.9 625.9 261.0C629.3 256.1 631.8 254.5 634.3 252.7C636.8 250.9 638.5 250.5 641.0 250.2C643.5 249.9 646.6 250.3 649.4 251.0C652.2 251.7 655.1 253.3 657.7 254.3C660.3 255.3 663.6 256.5 664.8 256.9"/>
<path d="M579.5 327.2C582.0 327.0 589.1 326.0 594.2 326.2C599.3 326.4 604.9 327.9 610.3 328.2C615.7 328.5 621.7 328.4 626.4 328.2C631.1 328.0 634.4 327.4 638.4 327.2C642.4 327.0 646.1 326.9 650.5 327.2C654.9 327.5 662.4 328.9 664.8 329.2"/>
<path d="M579.5 329.2C581.3 329.2 586.3 328.3 590.1 329.2C593.9 330.1 598.2 332.6 602.2 334.3C606.2 336.0 610.3 338.0 614.3 339.3C618.3 340.6 622.4 341.6 626.4 341.9C630.4 342.2 634.4 341.9 638.4 341.3C642.4 340.7 646.1 339.5 650.5 338.3C654.9 337.1 662.4 335.0 664.8 334.3"/>
<path d="M579.5 358.6C581.3 358.5 586.6 357.5 590.1 358.0C593.6 358.5 596.6 359.6 600.2 361.5C603.8 363.4 607.8 367.3 611.5 369.5C615.2 371.7 619.2 373.0 622.3 374.5C625.4 376.0 627.2 376.9 630.0 378.6C632.8 380.3 635.9 383.1 638.9 384.8C641.9 386.5 644.8 388.0 647.8 388.9C650.8 389.8 653.8 390.3 656.6 390.2C659.4 390.1 663.4 388.7 664.8 388.4"/>
<path d="M622.3 375.0C623.6 375.8 627.2 377.8 630.0 379.6C632.8 381.4 635.9 384.3 638.9 386.0C641.9 387.7 644.8 389.1 647.8 389.9C650.8 390.7 653.8 391.1 656.6 391.0C659.4 390.9 663.4 389.3 664.8 389.0"/>
<path d="M579.5 430.6C581.4 431.3 587.2 434.6 590.9 434.8C594.5 435.0 597.9 432.9 601.4 431.7C604.9 430.5 608.3 428.9 611.8 427.5C615.3 426.1 620.5 424.0 622.3 423.3"/>
<path d="M579.5 442.2C581.0 441.9 585.8 439.6 588.8 440.1C591.8 440.6 594.4 442.7 597.2 445.3C600.0 447.9 602.8 453.0 605.6 455.8C608.4 458.6 612.0 459.7 613.9 462.1C615.8 464.5 616.5 468.9 617.0 470.3"/>
<path d="M641.1 436.0C642.5 437.8 646.7 444.0 649.5 446.5C652.3 449.0 655.4 450.1 657.9 451.0C660.4 451.9 663.6 451.8 664.8 452.0"/>
<path d="M615.0 470.3C615.9 468.9 617.9 464.7 620.2 462.1C622.5 459.5 625.5 456.6 628.6 454.7C631.7 452.8 636.2 451.2 639.0 450.5C641.8 449.8 643.2 449.6 645.3 450.5C647.4 451.4 649.5 454.2 651.6 455.8C653.7 457.4 655.7 458.9 657.9 460.0C660.1 461.1 663.6 461.8 664.8 462.1"/>
<path d="M617.0 470.3C617.9 469.1 620.0 465.3 622.3 463.0C624.6 460.7 627.9 458.2 630.7 456.5C633.5 454.8 636.6 453.4 639.0 452.6C641.4 451.8 644.2 451.8 645.3 451.6"/>
<path d="M664.8 148.4C667.3 148.1 674.7 147.7 680.1 146.5C685.5 145.3 691.6 142.9 697.3 141.3C703.0 139.7 709.7 137.6 714.4 136.7C719.1 135.8 723.6 135.8 725.5 135.6"/>
<path d="M664.8 152.5C667.3 152.1 674.7 151.5 680.1 149.9C685.5 148.3 691.6 145.1 697.3 143.0C703.0 140.9 709.7 138.5 714.4 137.3C719.1 136.1 723.6 136.1 725.5 135.8"/>
<path d="M664.8 156.4C667.3 156.0 674.7 155.6 680.1 153.9C685.5 152.2 691.6 148.8 697.3 146.5C703.0 144.2 709.7 141.4 714.4 140.2C719.1 138.9 723.6 139.2 725.5 139.0"/>
<path d="M664.8 159.6C667.3 159.2 674.7 159.0 680.1 157.3C685.5 155.6 691.6 152.0 697.3 149.3C703.0 146.6 709.7 143.0 714.4 141.3C719.1 139.6 723.6 139.6 725.5 139.3"/>
<path d="M664.8 256.0C667.5 255.6 675.7 255.4 681.2 253.5C686.7 251.6 692.4 247.2 698.0 244.3C703.6 241.4 710.1 237.7 714.7 235.9C719.3 234.1 723.7 233.8 725.5 233.4"/>
<path d="M664.8 256.9C667.5 256.5 675.7 256.8 681.2 254.8C686.7 252.9 692.4 248.3 698.0 245.2C703.6 242.1 710.1 238.2 714.7 236.3C719.3 234.4 723.7 234.1 725.5 233.6"/>
<path d="M664.8 329.2C667.1 329.0 673.7 328.8 678.7 328.2C683.7 327.6 689.4 326.8 694.8 325.8C700.2 324.8 705.8 323.2 710.9 322.2C716.0 321.2 723.1 320.2 725.5 319.8"/>
<path d="M664.8 334.3C667.1 334.0 673.7 333.6 678.7 332.7C683.7 331.8 689.4 330.8 694.8 329.2C700.2 327.6 705.8 324.7 710.9 323.2C716.0 321.7 723.1 320.7 725.5 320.2"/>
<path d="M664.8 388.4C666.1 388.2 670.4 388.1 672.6 387.1C674.8 386.1 675.9 384.8 678.0 382.2C680.1 379.6 682.6 375.4 685.0 371.5C687.4 367.6 689.8 363.2 692.2 359.1C694.6 355.0 696.9 349.9 699.3 346.6C701.7 343.3 703.7 341.3 706.4 339.5C709.1 337.7 712.1 336.7 715.3 336.0C718.5 335.3 723.8 335.2 725.5 335.1"/>
<path d="M664.8 389.0C666.1 388.8 670.3 389.0 672.6 388.0C674.9 387.0 676.4 385.9 678.6 383.2C680.8 380.5 683.4 375.9 685.8 372.0C688.2 368.1 690.6 363.7 693.0 359.6C695.4 355.5 697.7 350.6 700.0 347.4C702.3 344.2 704.4 342.1 707.0 340.3C709.6 338.5 712.7 337.4 715.8 336.6C718.9 335.8 723.9 335.7 725.5 335.5"/>
<path d="M656.6 398.5C658.0 398.8 662.4 400.2 664.8 400.3C667.2 400.4 668.4 400.1 670.9 399.0C673.4 397.9 678.2 394.4 679.7 393.5"/>
<path d="M664.8 407.2C666.4 406.6 671.6 404.8 674.6 403.5C677.6 402.2 680.2 400.2 683.0 399.3C685.8 398.4 687.8 398.0 691.3 398.2C694.8 398.4 698.2 399.6 703.9 400.3C709.6 401.0 721.9 402.0 725.5 402.4"/>
<path d="M664.8 448.5C665.7 447.8 668.1 447.3 670.4 444.3C672.7 441.3 676.0 434.7 678.8 430.7C681.6 426.7 684.4 422.5 687.2 420.2C690.0 417.9 692.0 417.4 695.5 417.1C699.0 416.8 703.1 418.0 708.1 418.5C713.1 419.0 722.6 419.9 725.5 420.2"/>
<path d="M664.8 452.0C665.7 451.3 668.1 451.1 670.4 448.0C672.7 444.9 676.0 437.8 678.8 433.5C681.6 429.2 684.4 424.9 687.2 422.5C690.0 420.1 692.0 419.6 695.5 419.2C699.0 418.8 703.1 420.1 708.1 420.3C713.1 420.5 722.6 420.6 725.5 420.6"/>
<path d="M661.0 470.3C661.7 469.7 663.8 466.8 665.2 466.8C666.6 466.8 668.8 469.7 669.5 470.3"/>
</g>
<g stroke-width="1.95">
<path d="M130.5 236.6C133.2 237.2 141.4 239.0 146.8 239.9C152.2 240.8 158.4 242.2 162.9 242.2C167.4 242.2 169.7 241.7 173.7 239.9C177.7 238.1 182.6 234.1 187.1 231.2C191.6 228.3 196.0 224.6 200.5 222.5C205.0 220.4 209.9 218.9 213.9 218.5C217.9 218.1 220.8 218.4 224.6 219.8C228.4 221.2 233.1 225.1 236.7 227.2C240.3 229.3 243.7 231.5 246.1 232.6C248.5 233.7 250.3 233.3 251.2 233.5"/>
<path d="M130.5 376.3C133.1 376.7 141.3 378.2 146.0 378.7C150.7 379.2 154.8 379.8 158.8 379.5C162.8 379.2 165.9 379.0 169.9 377.1C173.9 375.2 178.2 372.5 182.7 368.4C187.2 364.3 192.6 358.0 197.1 352.4C201.6 346.8 206.7 339.8 209.9 334.8C213.2 329.9 213.7 328.2 216.6 322.7C219.5 317.2 223.7 308.5 227.3 301.9C230.9 295.3 234.9 287.7 238.0 283.2C241.1 278.7 243.9 276.8 246.1 275.1C248.3 273.4 250.3 273.4 251.2 273.1"/>
<path d="M200.1 470.3C201.4 469.5 205.2 467.7 208.1 465.3C211.0 462.9 214.5 459.7 217.7 455.7C220.9 451.7 224.1 445.8 227.3 441.3C230.5 436.8 234.0 431.7 236.9 428.5C239.8 425.3 242.6 423.5 245.0 422.2C247.4 420.9 250.2 421.0 251.2 420.8"/>
<path d="M251.2 273.1C252.8 273.4 256.9 273.4 260.8 274.9C264.7 276.3 268.7 278.5 274.3 281.8C279.9 285.1 288.8 291.2 294.4 294.6C300.0 298.0 303.5 299.7 307.8 301.9C312.1 304.1 315.5 306.1 320.0 307.6C324.5 309.1 331.2 310.7 335.0 311.1C338.8 311.5 341.1 310.5 343.0 310.1C344.9 309.7 346.1 308.8 346.7 308.5"/>
<path d="M251.2 329.5C253.3 329.7 260.0 329.7 264.0 330.8C268.0 331.9 271.2 333.2 275.2 336.4C279.2 339.6 283.6 345.0 287.9 349.9C292.1 354.8 297.0 361.9 300.7 365.9C304.4 369.9 307.6 372.2 310.3 373.9C313.0 375.5 314.8 375.9 316.7 375.8C318.6 375.7 319.4 375.3 321.5 373.1C323.6 370.9 326.8 365.5 329.5 362.7C332.2 359.9 334.6 357.8 337.5 356.3C340.4 354.8 345.2 354.0 346.7 353.5"/>
<path d="M317.3 470.3C318.0 469.2 319.8 465.4 321.6 463.5C323.4 461.6 326.0 459.6 328.2 459.2C330.4 458.8 332.6 459.5 334.8 461.4C337.0 463.2 340.2 468.8 341.3 470.3"/>
<path d="M346.7 308.5C348.1 311.1 352.4 320.1 355.1 324.2C357.9 328.3 360.5 331.1 363.2 333.2C365.9 335.3 368.5 336.3 371.2 336.7C373.9 337.1 376.5 336.4 379.2 335.8C381.9 335.2 384.9 333.2 387.3 332.8C389.7 332.4 391.3 332.6 393.3 333.2C395.3 333.8 397.0 334.7 399.3 336.7C401.6 338.7 404.7 341.9 407.4 345.3C410.1 348.8 412.7 353.5 415.4 357.4C418.1 361.2 420.8 365.4 423.5 368.4C426.2 371.4 428.8 373.8 431.5 375.5C434.2 377.2 436.9 378.2 439.6 378.9C442.3 379.6 444.2 380.0 447.6 379.9C451.0 379.8 455.1 379.1 459.7 378.5C464.2 377.9 472.4 376.5 474.9 376.1"/>
<path d="M346.7 353.7C348.8 355.3 355.0 359.7 359.1 363.1C363.2 366.5 367.7 371.0 371.2 374.2C374.7 377.4 377.1 379.3 380.0 382.5C382.9 385.7 386.2 389.8 388.8 393.5C391.4 397.2 393.4 400.8 395.7 404.5C398.0 408.2 400.1 411.2 402.6 415.6C405.1 420.0 408.4 426.3 410.9 430.8C413.4 435.3 415.0 438.2 417.8 442.8C420.6 447.4 424.8 454.4 427.8 458.7C430.8 463.0 434.3 466.8 435.8 468.7C437.3 470.6 436.8 470.0 437.0 470.3"/>
<path d="M350.3 470.3C350.8 468.9 351.8 464.3 353.0 462.2C354.2 460.1 355.9 458.0 357.4 457.7C358.9 457.4 360.2 458.8 361.9 460.4C363.5 462.0 365.9 465.9 367.3 467.5C368.7 469.1 369.6 469.8 370.0 470.3"/>
<path d="M507.6 470.3C509.0 468.2 513.1 462.3 516.1 457.7C519.1 453.1 522.4 447.2 525.6 442.5C528.8 437.8 531.9 433.1 535.1 429.3C538.3 425.5 541.5 422.3 544.6 419.8C547.8 417.3 550.5 415.5 554.0 414.1C557.5 412.7 561.1 411.9 565.4 411.3C569.6 410.7 577.1 410.5 579.5 410.3"/>
<path d="M579.5 321.2C581.3 321.5 586.3 322.9 590.1 323.2C593.9 323.5 598.2 323.5 602.2 323.2C606.2 322.9 610.3 322.2 614.3 321.2C618.3 320.2 622.4 319.2 626.4 317.2C630.4 315.2 634.8 311.9 638.4 309.1C642.0 306.3 644.5 303.8 647.7 300.5C650.9 297.2 654.9 292.1 657.7 289.6C660.6 287.1 663.6 286.1 664.8 285.4"/>
<path d="M579.5 336.7C580.6 336.1 584.0 333.5 586.1 333.3C588.2 333.1 589.8 333.6 592.1 335.3C594.5 337.0 597.2 340.8 600.2 343.3C603.2 345.8 606.6 348.1 610.3 350.4C614.0 352.7 619.0 355.0 622.3 357.0C625.6 359.0 627.2 360.2 630.0 362.6C632.8 365.0 635.9 369.4 638.9 371.5C641.9 373.6 644.8 374.3 647.8 375.1C650.8 375.9 653.8 376.0 656.6 376.5C659.4 377.0 663.4 378.0 664.8 378.3"/>
<path d="M579.5 358.4C581.3 358.2 586.6 357.1 590.1 357.4C593.6 357.7 596.8 358.5 600.2 360.4C603.6 362.2 607.0 364.9 610.3 368.5C613.6 372.1 616.9 377.9 620.2 382.0C623.5 386.1 627.2 390.6 630.0 392.8C632.8 395.1 635.0 395.4 637.1 395.5C639.2 395.6 640.6 393.8 642.4 393.7C644.2 393.6 645.4 394.0 647.8 394.6C650.2 395.2 653.8 396.7 656.6 397.3C659.4 397.9 663.4 398.1 664.8 398.2"/>
<path d="M579.5 410.2C581.4 411.4 587.2 414.9 590.9 417.1C594.5 419.3 598.6 421.9 601.4 423.3C604.2 424.7 604.9 425.6 607.7 425.4C610.5 425.2 614.6 423.3 618.1 422.3C621.6 421.3 625.1 420.2 628.6 419.2C632.1 418.2 635.5 418.1 639.0 416.4C642.5 414.6 646.4 410.3 649.5 408.7C652.6 407.1 655.4 406.9 657.9 406.6C660.4 406.4 663.6 407.1 664.8 407.2"/>
<path d="M579.5 429.6C581.4 430.1 587.2 432.8 590.9 432.8C594.5 432.8 597.9 430.8 601.4 429.6C604.9 428.4 608.3 426.8 611.8 425.4C615.3 424.0 618.8 422.0 622.3 421.3C625.8 420.6 629.7 420.8 632.8 421.3C635.9 421.8 638.3 422.8 641.1 424.4C643.9 426.0 646.7 428.6 649.5 430.7C652.3 432.8 655.4 435.6 657.9 436.9C660.4 438.2 663.6 438.3 664.8 438.6"/>
<path d="M579.5 441.1C581.0 440.6 585.8 437.8 588.8 438.0C591.8 438.2 594.4 439.9 597.2 442.2C600.0 444.5 602.8 449.2 605.6 451.6C608.4 454.0 611.8 456.1 613.9 456.8C616.0 457.5 616.4 457.7 618.1 455.8C619.9 453.9 622.3 448.8 624.4 445.3C626.5 441.8 628.8 437.5 630.7 434.9C632.6 432.3 634.2 429.6 635.9 429.6C637.6 429.6 638.8 432.6 641.1 434.9C643.4 437.2 646.7 441.1 649.5 443.2C652.3 445.3 655.4 446.5 657.9 447.4C660.4 448.3 663.6 448.3 664.8 448.5"/>
<path d="M664.8 285.4C667.5 285.1 675.7 284.7 681.2 283.7C686.7 282.7 692.4 281.0 698.0 279.5C703.6 278.0 710.1 275.5 714.7 274.5C719.3 273.5 723.7 273.5 725.5 273.3"/>
<path d="M664.8 378.3C665.8 377.9 668.7 377.7 670.9 376.0C673.1 374.3 675.4 371.4 678.0 368.0C680.6 364.6 683.8 359.6 686.8 355.5C689.8 351.4 692.7 346.7 695.7 343.1C698.7 339.6 701.6 336.4 704.6 334.2C707.6 332.0 710.0 330.8 713.5 329.8C717.0 328.9 723.5 328.7 725.5 328.5"/>
<path d="M664.8 398.2C665.8 397.9 668.4 397.4 670.9 396.4C673.4 395.3 676.8 393.7 679.7 391.9C682.7 390.1 685.6 388.2 688.6 385.7C691.6 383.2 694.5 379.3 697.5 376.8C700.5 374.3 703.4 372.1 706.4 370.6C709.4 369.1 712.1 368.3 715.3 367.6C718.5 366.9 723.8 366.7 725.5 366.5"/>
<path d="M664.8 438.6C665.7 438.0 668.1 438.0 670.4 434.9C672.7 431.8 676.0 425.1 678.8 420.2C681.6 415.3 685.1 408.9 687.2 405.6C689.3 402.3 689.5 401.4 691.3 400.3C693.1 399.2 694.9 398.7 698.0 398.8C701.1 398.9 705.4 400.3 710.0 401.0C714.6 401.7 722.9 402.5 725.5 402.8"/>
<path d="M657.9 470.3C658.6 469.4 660.8 466.3 662.0 465.2C663.2 464.1 664.0 463.8 665.2 463.7C666.4 463.6 667.8 463.8 669.4 464.6C671.0 465.4 673.4 467.4 674.6 468.3C675.8 469.2 676.4 470.0 676.7 470.3"/>
</g>
  </g>
  <!-- frame -->
  <rect x="130.5" y="53.5" width="595" height="416.9" fill="none" stroke="#000" stroke-width="3"/>
  <!-- ticks -->
  <g stroke="#000" stroke-width="3">
    <line x1="130.5" y1="103.1" x2="137" y2="103.1"/>
    <line x1="130.5" y1="152.8" x2="143" y2="152.8"/>
    <line x1="130.5" y1="202.5" x2="137" y2="202.5"/>
    <line x1="130.5" y1="252.2" x2="143" y2="252.2"/>
    <line x1="130.5" y1="301.9" x2="137" y2="301.9"/>
    <line x1="130.5" y1="351.6" x2="143" y2="351.6"/>
    <line x1="130.5" y1="401.2" x2="137" y2="401.2"/>
    <line x1="130.5" y1="450.9" x2="143" y2="450.9"/>
    <line x1="725.5" y1="103.1" x2="719" y2="103.1"/>
    <line x1="725.5" y1="152.8" x2="713" y2="152.8"/>
    <line x1="725.5" y1="202.5" x2="719" y2="202.5"/>
    <line x1="725.5" y1="252.2" x2="713" y2="252.2"/>
    <line x1="725.5" y1="301.9" x2="719" y2="301.9"/>
    <line x1="725.5" y1="351.6" x2="713" y2="351.6"/>
    <line x1="725.5" y1="401.2" x2="719" y2="401.2"/>
    <line x1="725.5" y1="450.9" x2="713" y2="450.9"/>
  </g>
  <!-- labels -->
  <g fill="#000">
    <text x="-0.9" y="31.2" font-size="45">(a)</text>
    <g font-size="42.5" text-anchor="end">
      <text transform="translate(125.2,67.4) scale(1,1.024)">0.5</text>
      <text transform="translate(124.8,166.8) scale(1,1.024)">0</text>
      <text transform="translate(124.8,267.1) scale(1,1.024)">-0.5</text>
      <text transform="translate(125.4,365.9) scale(1,1.024)">-1</text>
      <text transform="translate(125.4,465.5) scale(1,1.024)">-1.5</text>
    </g>
    <text transform="translate(44.6,266.6) rotate(-90) scale(1.081,1)" text-anchor="middle" font-size="42">Energy (eV)</text>
    <g font-size="42" text-anchor="middle">
      <text transform="translate(132.5,505.3) scale(1.17,1)">Γ</text>
      <text transform="translate(251.7,505.3) scale(1.03,1)">X</text>
      <text transform="translate(346,505.3)">U/K</text>
      <text transform="translate(475.5,505.3) scale(1.17,1)">Γ</text>
      <text transform="translate(581.2,505.3) scale(1.16,1)">L</text>
      <text transform="translate(666.5,505.3)">W</text>
      <text transform="translate(726,505.3) scale(1.03,1)">X</text>
    </g>
  </g>
  <!-- blue box + arrow -->
  <rect x="475.2" y="215" width="28.8" height="35.3" fill="none" stroke="#0000ff" stroke-width="3"/>
  <line x1="504.5" y1="213.6" x2="827" y2="120.7" stroke="#0000ff" stroke-width="2.9"/>
  <polygon points="843.8,115.2 823.3,111.3 828.5,129.7" fill="#0000ff"/>
</g>

<!-- ================= PANEL B ================= -->
<g id="panelB">
  <g id="bandsB" fill="none" clip-path="url(#clipB)">
<path d="M903.6 158.0C906.1 158.2 913.5 158.7 918.4 159.0C923.3 159.3 928.2 159.6 933.2 159.8C938.1 160.1 943.0 160.3 947.9 160.6C952.9 160.8 957.8 161.0 962.7 161.3C967.6 161.5 972.6 161.7 977.5 162.0C982.4 162.3 987.4 162.5 992.3 162.8C997.2 163.1 1002.1 163.4 1007.1 163.8C1012.0 164.1 1016.9 164.4 1021.8 164.8C1026.8 165.1 1031.7 165.5 1036.6 165.8C1041.5 166.2 1046.5 166.5 1051.4 166.9C1056.3 167.2 1061.2 167.6 1066.2 167.9C1071.1 168.3 1076.0 168.6 1081.0 168.9C1085.9 169.2 1090.8 169.5 1095.7 169.8C1100.7 170.0 1105.6 170.2 1110.5 170.4C1115.4 170.6 1120.4 170.7 1125.3 170.8C1130.2 170.8 1135.1 170.9 1140.1 170.8C1145.0 170.8 1149.9 170.7 1154.9 170.5C1159.8 170.3 1164.7 170.1 1169.6 169.7C1174.6 169.4 1179.5 169.0 1184.4 168.5C1189.3 168.0 1194.3 167.4 1199.2 166.8C1204.1 166.1 1209.0 165.3 1214.0 164.5C1218.9 163.6 1223.8 162.7 1228.7 161.6C1233.7 160.6 1238.6 159.4 1243.5 158.2C1248.5 157.0 1253.4 155.6 1258.3 154.2C1263.2 152.8 1268.2 151.2 1273.1 149.6C1278.0 148.0 1282.9 146.3 1287.9 144.5C1292.8 142.7 1297.7 140.8 1302.6 138.8C1307.6 136.8 1312.5 134.7 1317.4 132.6C1322.4 130.5 1327.3 128.2 1332.2 126.0C1337.1 123.7 1342.1 121.3 1347.0 118.9C1351.9 116.5 1356.8 114.0 1361.8 111.5C1366.7 109.0 1371.6 106.4 1376.5 103.8C1381.5 101.2 1386.4 98.6 1391.3 95.9C1396.2 93.2 1401.2 90.5 1406.1 87.8C1411.0 85.1 1416.0 82.4 1420.9 79.6C1425.8 76.9 1430.7 74.1 1435.7 71.4C1440.6 68.7 1445.5 65.9 1450.4 63.2C1455.4 60.5 1460.3 57.8 1465.2 55.1C1470.1 52.4 1477.5 48.4 1480.0 47.1" stroke="#000" stroke-width="1.4"/>
<path d="M903.6 312.9C906.1 312.7 913.7 312.3 918.8 311.8C923.8 311.4 928.9 310.8 933.9 310.1C939.0 309.4 944.0 308.6 949.1 307.7C954.1 306.9 959.2 305.9 964.3 304.9C969.3 303.9 974.4 302.9 979.4 301.8C984.5 300.6 989.5 299.5 994.6 298.3C999.6 297.0 1004.7 295.8 1009.7 294.5C1014.8 293.2 1019.9 291.8 1024.9 290.5C1030.0 289.1 1035.0 287.7 1040.1 286.2C1045.1 284.8 1050.2 283.3 1055.2 281.7C1060.3 280.2 1065.4 278.7 1070.4 277.1C1075.5 275.5 1080.5 273.8 1085.6 272.1C1090.6 270.4 1095.7 268.7 1100.7 266.9C1105.8 265.2 1110.8 263.4 1115.9 261.5C1121.0 259.6 1126.0 257.7 1131.1 255.8C1136.1 253.8 1141.2 251.8 1146.2 249.7C1151.3 247.7 1156.3 245.6 1161.4 243.4C1166.4 241.2 1171.5 239.0 1176.6 236.7C1181.6 234.4 1186.7 232.1 1191.7 229.7C1196.8 227.3 1201.8 224.9 1206.9 222.4C1211.9 219.8 1217.0 217.3 1222.0 214.7C1227.1 212.0 1232.2 209.4 1237.2 206.6C1242.3 203.9 1247.3 201.1 1252.4 198.3C1257.4 195.4 1262.5 192.5 1267.5 189.6C1272.6 186.7 1277.6 183.7 1282.7 180.7C1287.8 177.6 1292.8 174.6 1297.9 171.5C1302.9 168.4 1308.0 165.2 1313.0 162.0C1318.1 158.9 1323.1 155.7 1328.2 152.4C1333.2 149.2 1338.3 146.0 1343.4 142.7C1348.4 139.4 1353.5 136.1 1358.5 132.9C1363.6 129.6 1368.6 126.3 1373.7 123.0C1378.7 119.7 1383.8 116.4 1388.9 113.1C1393.9 109.8 1399.0 106.5 1404.0 103.2C1409.1 100.0 1414.1 96.7 1419.2 93.5C1424.2 90.2 1429.3 87.0 1434.3 83.8C1439.4 80.6 1444.5 77.5 1449.5 74.3C1454.6 71.2 1459.6 68.1 1464.7 65.0C1469.7 62.0 1474.8 58.9 1479.8 55.9C1484.9 52.9 1492.5 48.4 1495.0 47.0" stroke="#0000ff" stroke-width="1.6"/>
<path d="M903.6 313.2C906.2 313.5 913.8 314.5 918.9 315.0C924.1 315.5 929.2 316.0 934.3 316.3C939.4 316.7 944.5 317.0 949.6 317.2C954.7 317.5 959.9 317.6 965.0 317.7C970.1 317.8 975.2 317.9 980.3 317.8C985.4 317.8 990.5 317.7 995.7 317.5C1000.8 317.4 1005.9 317.1 1011.0 316.8C1016.1 316.6 1021.2 316.2 1026.3 315.8C1031.5 315.4 1036.6 314.9 1041.7 314.4C1046.8 313.9 1051.9 313.3 1057.0 312.7C1062.2 312.1 1067.3 311.4 1072.4 310.7C1077.5 310.0 1082.6 309.2 1087.7 308.4C1092.8 307.6 1098.0 306.7 1103.1 305.8C1108.2 304.9 1113.3 304.0 1118.4 303.0C1123.5 302.0 1128.6 301.0 1133.8 299.9C1138.9 298.8 1144.0 297.7 1149.1 296.5C1154.2 295.4 1159.3 294.2 1164.4 292.9C1169.6 291.7 1174.7 290.4 1179.8 289.0C1184.9 287.7 1190.0 286.3 1195.1 284.9C1200.2 283.5 1205.4 282.1 1210.5 280.6C1215.6 279.1 1220.7 277.5 1225.8 275.9C1230.9 274.3 1236.0 272.7 1241.2 271.0C1246.3 269.3 1251.4 267.6 1256.5 265.8C1261.6 264.1 1266.7 262.2 1271.8 260.4C1277.0 258.5 1282.1 256.6 1287.2 254.6C1292.3 252.6 1297.4 250.6 1302.5 248.5C1307.6 246.4 1312.8 244.3 1317.9 242.1C1323.0 239.9 1328.1 237.7 1333.2 235.4C1338.3 233.1 1343.4 230.7 1348.6 228.3C1353.7 225.9 1358.8 223.5 1363.9 221.0C1369.0 218.4 1374.1 215.9 1379.3 213.3C1384.4 210.6 1389.5 208.0 1394.6 205.3C1399.7 202.5 1404.8 199.8 1409.9 197.0C1415.1 194.2 1420.2 191.3 1425.3 188.4C1430.4 185.6 1435.5 182.6 1440.6 179.7C1445.7 176.7 1450.9 173.8 1456.0 170.8C1461.1 167.8 1466.2 164.8 1471.3 161.8C1476.4 158.8 1481.5 155.8 1486.7 152.8C1491.8 149.8 1499.4 145.4 1502.0 143.9" stroke="#ff0000" stroke-width="1.6"/>
<path d="M903.6 292.9C906.2 292.8 913.8 292.6 918.9 292.5C924.1 292.4 929.2 292.3 934.3 292.1C939.4 292.0 944.5 291.9 949.6 291.7C954.7 291.5 959.9 291.4 965.0 291.1C970.1 290.9 975.2 290.6 980.3 290.4C985.4 290.1 990.5 289.7 995.7 289.4C1000.8 289.0 1005.9 288.6 1011.0 288.2C1016.1 287.8 1021.2 287.3 1026.3 286.8C1031.5 286.4 1036.6 285.9 1041.7 285.4C1046.8 284.9 1051.9 284.3 1057.0 283.8C1062.2 283.3 1067.3 282.8 1072.4 282.3C1077.5 281.8 1082.6 281.3 1087.7 280.8C1092.8 280.4 1098.0 279.9 1103.1 279.5C1108.2 279.1 1113.3 278.7 1118.4 278.4C1123.5 278.1 1128.6 277.8 1133.8 277.6C1138.9 277.4 1144.0 277.2 1149.1 277.1C1154.2 277.1 1159.3 277.0 1164.4 277.1C1169.6 277.2 1174.7 277.3 1179.8 277.5C1184.9 277.7 1190.0 278.0 1195.1 278.4C1200.2 278.8 1205.4 279.3 1210.5 279.8C1215.6 280.4 1220.7 281.1 1225.8 281.8C1230.9 282.6 1236.0 283.4 1241.2 284.4C1246.3 285.3 1251.4 286.3 1256.5 287.5C1261.6 288.6 1266.7 289.8 1271.8 291.1C1277.0 292.4 1282.1 293.8 1287.2 295.3C1292.3 296.7 1297.4 298.3 1302.5 299.9C1307.6 301.6 1312.8 303.3 1317.9 305.1C1323.0 306.9 1328.1 308.7 1333.2 310.6C1338.3 312.6 1343.4 314.6 1348.6 316.6C1353.7 318.7 1358.8 320.8 1363.9 322.9C1369.0 325.1 1374.1 327.3 1379.3 329.6C1384.4 331.8 1389.5 334.1 1394.6 336.5C1399.7 338.9 1404.8 341.3 1409.9 343.7C1415.1 346.2 1420.2 348.7 1425.3 351.2C1430.4 353.7 1435.5 356.3 1440.6 359.0C1445.7 361.6 1450.9 364.3 1456.0 367.1C1461.1 369.9 1466.2 372.7 1471.3 375.6C1476.4 378.5 1481.5 381.5 1486.7 384.6C1491.8 387.7 1499.4 392.6 1502.0 394.2" stroke="#00ff00" stroke-width="1.4"/>
<path d="M903.6 292.9C906.2 292.8 913.8 292.6 918.9 292.5C924.1 292.4 929.2 292.3 934.3 292.1C939.4 292.0 944.5 291.9 949.6 291.7C954.7 291.5 959.9 291.4 965.0 291.1C970.1 290.9 975.2 290.6 980.3 290.4C985.4 290.1 990.5 289.7 995.7 289.4C1000.8 289.0 1005.9 288.6 1011.0 288.2C1016.1 287.8 1021.2 287.3 1026.3 286.8C1031.5 286.4 1036.6 285.9 1041.7 285.4C1046.8 284.9 1051.9 284.3 1057.0 283.8C1062.2 283.3 1067.3 282.8 1072.4 282.3C1077.5 281.8 1082.6 281.3 1087.7 280.8C1092.8 280.4 1098.0 279.9 1103.1 279.5C1108.2 279.1 1113.3 278.7 1118.4 278.4C1123.5 278.1 1128.6 277.8 1133.8 277.6C1138.9 277.4 1144.0 277.2 1149.1 277.1C1154.2 277.1 1159.3 277.0 1164.4 277.1C1169.6 277.2 1174.7 277.3 1179.8 277.5C1184.9 277.7 1190.0 278.0 1195.1 278.4C1200.2 278.8 1205.4 279.3 1210.5 279.8C1215.6 280.4 1220.7 281.1 1225.8 281.8C1230.9 282.6 1236.0 283.4 1241.2 284.4C1246.3 285.3 1251.4 286.3 1256.5 287.5C1261.6 288.6 1266.7 289.8 1271.8 291.1C1277.0 292.4 1282.1 293.8 1287.2 295.3C1292.3 296.7 1297.4 298.3 1302.5 299.9C1307.6 301.6 1312.8 303.3 1317.9 305.1C1323.0 306.9 1328.1 308.7 1333.2 310.6C1338.3 312.6 1343.4 314.6 1348.6 316.6C1353.7 318.7 1358.8 320.8 1363.9 322.9C1369.0 325.1 1374.1 327.3 1379.3 329.6C1384.4 331.8 1389.5 334.1 1394.6 336.5C1399.7 338.9 1404.8 341.3 1409.9 343.7C1415.1 346.2 1420.2 348.7 1425.3 351.2C1430.4 353.7 1435.5 356.3 1440.6 359.0C1445.7 361.6 1450.9 364.3 1456.0 367.1C1461.1 369.9 1466.2 372.7 1471.3 375.6C1476.4 378.5 1481.5 381.5 1486.7 384.6C1491.8 387.7 1499.4 392.6 1502.0 394.2" stroke="#000" stroke-width="1.6" stroke-dasharray="6.8 3.4 1.4 3.4"/>
  </g>
  <!-- circles -->
  <circle cx="1049.6" cy="285.6" r="10.2" fill="none" stroke="#ff33cc" stroke-width="1.9"/>
  <circle cx="1217" cy="281.2" r="10.2" fill="none" stroke="#ff33cc" stroke-width="1.9"/>
  <!-- frame -->
  <rect x="903.5" y="53.5" width="594.7" height="417" fill="none" stroke="#000" stroke-width="2.9"/>
  <g stroke="#000" stroke-width="2.8">
    <line x1="903.5" y1="155.8" x2="910" y2="155.8"/>
    <line x1="903.5" y1="258.6" x2="915.5" y2="258.6"/>
    <line x1="903.5" y1="361.3" x2="910" y2="361.3"/>
    <line x1="903.5" y1="464.4" x2="915.5" y2="464.4"/>
    <line x1="1498" y1="155.8" x2="1492" y2="155.8"/>
    <line x1="1498" y1="258.2" x2="1486.5" y2="258.2"/>
    <line x1="1498" y1="361.3" x2="1492" y2="361.3"/>
    <line x1="1498" y1="464.4" x2="1486.5" y2="464.4"/>
  </g>
  <g fill="#000">
    <text x="764.8" y="31.2" font-size="45">(b)</text>
    <g font-size="42.5" text-anchor="end">
      <text transform="translate(900,67.2) scale(1,1.024)">-0.3</text>
      <text transform="translate(900,273.4) scale(1,1.024)">-0.4</text>
      <text transform="translate(900,478.6) scale(1,1.024)">-0.5</text>
    </g>
    <text transform="translate(817.2,268) rotate(-90) scale(1.081,1)" text-anchor="middle" font-size="42">Energy (eV)</text>
    <g font-size="42" text-anchor="middle">
      <text transform="translate(916.2,505.3) scale(1.12,1)">Γ</text>
      <text transform="translate(1210,505.3) scale(1.14,1)">L</text>
    </g>
  </g>
  <line x1="941" y1="490.7" x2="1168" y2="490.7" stroke="#000" stroke-width="3"/>
  <polygon points="1180,490.7 1165.7,482.6 1165.7,498.8" fill="#000"/>
  <!-- in-plot labels -->
  <g font-size="38">
    <text x="961" y="261" fill="#ff33cc" font-size="38.2">TDNP1</text>
    <text x="1155" y="347" fill="#ff33cc" font-size="39">TDNP2</text>
    <text x="1131.8" y="212.2" fill="#0000ff">2E</text>
    <text x="1022" y="353" fill="#ff0000">1E</text>
    <text x="1346" y="263.6" fill="#00ff00" font-size="37">Twofold</text>
    <text x="1400" y="298" fill="#00ff00" font-size="37.5">E</text>
  </g>
  <!-- fractions -->
  <g font-size="12.5" text-anchor="middle">
    <text x="1183.7" y="206.8" fill="#0000ff">3</text>
    <text x="1183.9" y="222.7" fill="#0000ff">2</text>
    <line x1="1176.6" y1="209.8" x2="1194.6" y2="209.8" stroke="#0000ff" stroke-width="1.1" opacity="0.5"/>
    <text x="1072.4" y="348" fill="#ff0000">3</text>
    <text x="1072.6" y="363.3" fill="#ff0000">2</text>
    <line x1="1065.4" y1="350.4" x2="1083" y2="350.4" stroke="#ff0000" stroke-width="1.1" opacity="0.5"/>
    <text x="1432.6" y="293.6" fill="#00ff00" font-size="13">1</text>
    <text x="1432.8" y="308.4" fill="#00ff00" font-size="13">2</text>
    <line x1="1426.1" y1="295.2" x2="1443.5" y2="295.2" stroke="#00ff00" stroke-width="1.1" opacity="0.5"/>
  </g>
  <!-- green arrow -->
  <line x1="1397.8" y1="300.7" x2="1381" y2="316" stroke="#00ff00" stroke-width="2.4"/>
  <polygon points="1371.6,323.2 1376.3,308.7 1381.6,315.3 1388.6,319.9" fill="#00ff00"/>
</g>
</svg>
</body>
</html>
